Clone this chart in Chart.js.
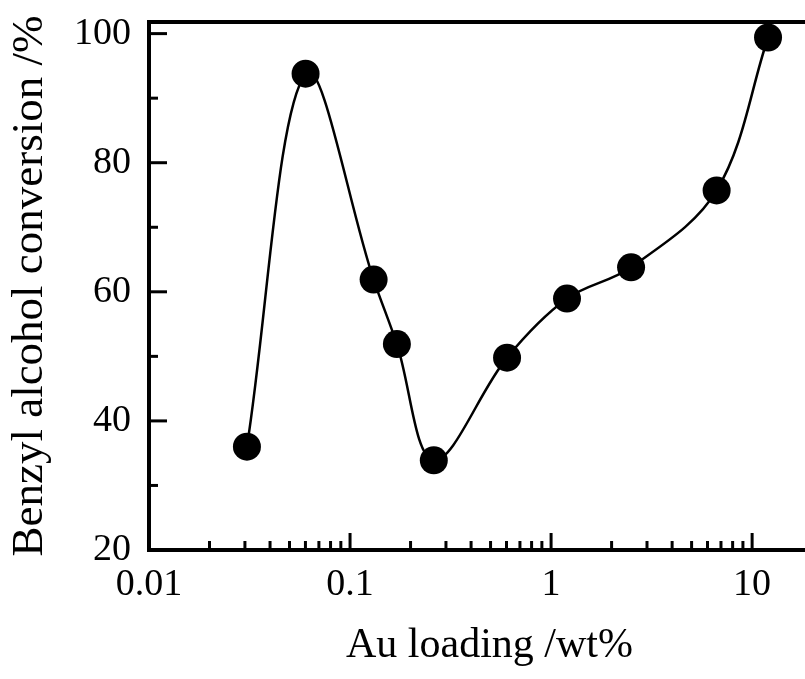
<!DOCTYPE html>
<html>
<head>
<meta charset="utf-8">
<script src="https://cdn.jsdelivr.net/npm/chart.js@4/dist/chart.umd.min.js"></script>
<style>
  html, body { margin: 0; padding: 0; background: #fff; overflow: hidden; }
  #graph { display: block; }
</style>
</head>
<body>
<canvas id="graph" width="832" height="679"></canvas>
<script>
// Au loading (wt%) and conversion (%)
const loading =    [0.0307, 0.0601, 0.131, 0.171, 0.261, 0.604, 1.20, 2.50, 6.66, 12.0]
const conversion = [36.0,   93.8,   61.9,  51.9,  33.9,  49.8,  58.95, 63.8, 75.7, 99.4]

// labelled ticks
const xTickLabels = [0.01, 0.1, 1, 10]
const yTickLabels = [20, 40, 60, 80, 100]

const black = '#000'
const serif = '"Liberation Serif", "DejaVu Serif", serif'

//inward tick marks + top frame line, drawn from the scales' own ticks
const frameTicks = {
    id: 'frameTicks',
    afterDraw(chart) {
        const {ctx, chartArea: a, scales: {x, y}} = chart
        ctx.save()
        ctx.strokeStyle = black
        ctx.lineWidth = 4
        ctx.beginPath()
        ctx.moveTo(a.left - 2, a.top)
        ctx.lineTo(a.right, a.top)
        ctx.stroke()

        ctx.lineWidth = 3
        for (const t of x.ticks) {
            const exp = Math.floor(Math.log10(t.value) + 1e-9)
            const mant = t.value / Math.pow(10, exp)
            if (Math.abs(mant - Math.round(mant)) > 1e-6) continue
            const px = x.getPixelForValue(t.value)
            if (px <= a.left + 3 || px >= a.right) continue
            const len = Math.round(mant) === 1 ? 17 : 9
            ctx.beginPath()
            ctx.moveTo(px, a.bottom)
            ctx.lineTo(px, a.bottom - len)
            ctx.stroke()
        }
        for (const t of y.ticks) {
            if (t.value % 10 !== 0) continue
            const py = y.getPixelForValue(t.value)
            if (py >= a.bottom - 3) continue
            const len = t.value % 20 === 0 ? 18 : 9
            ctx.beginPath()
            ctx.moveTo(a.left, py)
            ctx.lineTo(a.left + len, py)
            ctx.stroke()
        }
        ctx.restore()
    }
}

const points = loading.map((v, i) => ({x: v, y: conversion[i]}))

new Chart(document.getElementById('graph'), {
    type: 'scatter',
    data: {
        datasets: [{
            data: points,
            showLine: true,
            tension: 0.35,
            borderColor: black,
            borderWidth: 2.5,
            pointRadius: 14,
            pointBorderWidth: 0,
            pointBackgroundColor: black,
            clip: false,
        }]
    },
    options: {
        responsive: false,
        animation: false,
        layout: {autoPadding: false, padding: {top: 22, left: 0, right: 2, bottom: 0}},
        plugins: {
            legend: {display: false},
            tooltip: {enabled: false},
        },
        scales: {
            x: {
                type: 'logarithmic',
                min: 0.01,
                max: 24.4,
                //fixed axis height, no extra label padding
                afterFit: s => { s.height = 129; s.paddingLeft = 0; s.paddingRight = 0 },
                grid: {display: false, drawTicks: false},
                border: {display: true, color: black, width: 4},
                ticks: {
                    autoSkip: false,
                    maxRotation: 0,
                    padding: 12,
                    color: black,
                    font: {family: serif, size: 38},
                    callback: v => xTickLabels.some(l => Math.abs(l - v) < l * 1e-6) ? String(v) : ''
                },
                title: {
                    display: true,
                    text: 'Au loading /wt%',
                    color: black,
                    font: {family: serif, size: 42},
                    padding: {top: 0, bottom: 8}
                }
            },
            y: {
                min: 20,
                max: 101.8,
                afterFit: s => { s.width = 149; s.paddingTop = 0; s.paddingBottom = 0 },
                grid: {display: false, drawTicks: false},
                border: {display: true, color: black, width: 4},
                ticks: {
                    stepSize: 10,
                    includeBounds: false,
                    autoSkip: false,
                    padding: 18,
                    color: black,
                    font: {family: serif, size: 38},
                    callback: v => yTickLabels.includes(v) ? String(v) : ''
                },
                title: {
                    display: true,
                    text: 'Benzyl alcohol conversion /%',
                    color: black,
                    font: {family: serif, size: 45},
                    padding: {top: 3, bottom: 0}
                }
            }
        }
    },
    plugins: [frameTicks]
})
</script>
</body>
</html>
